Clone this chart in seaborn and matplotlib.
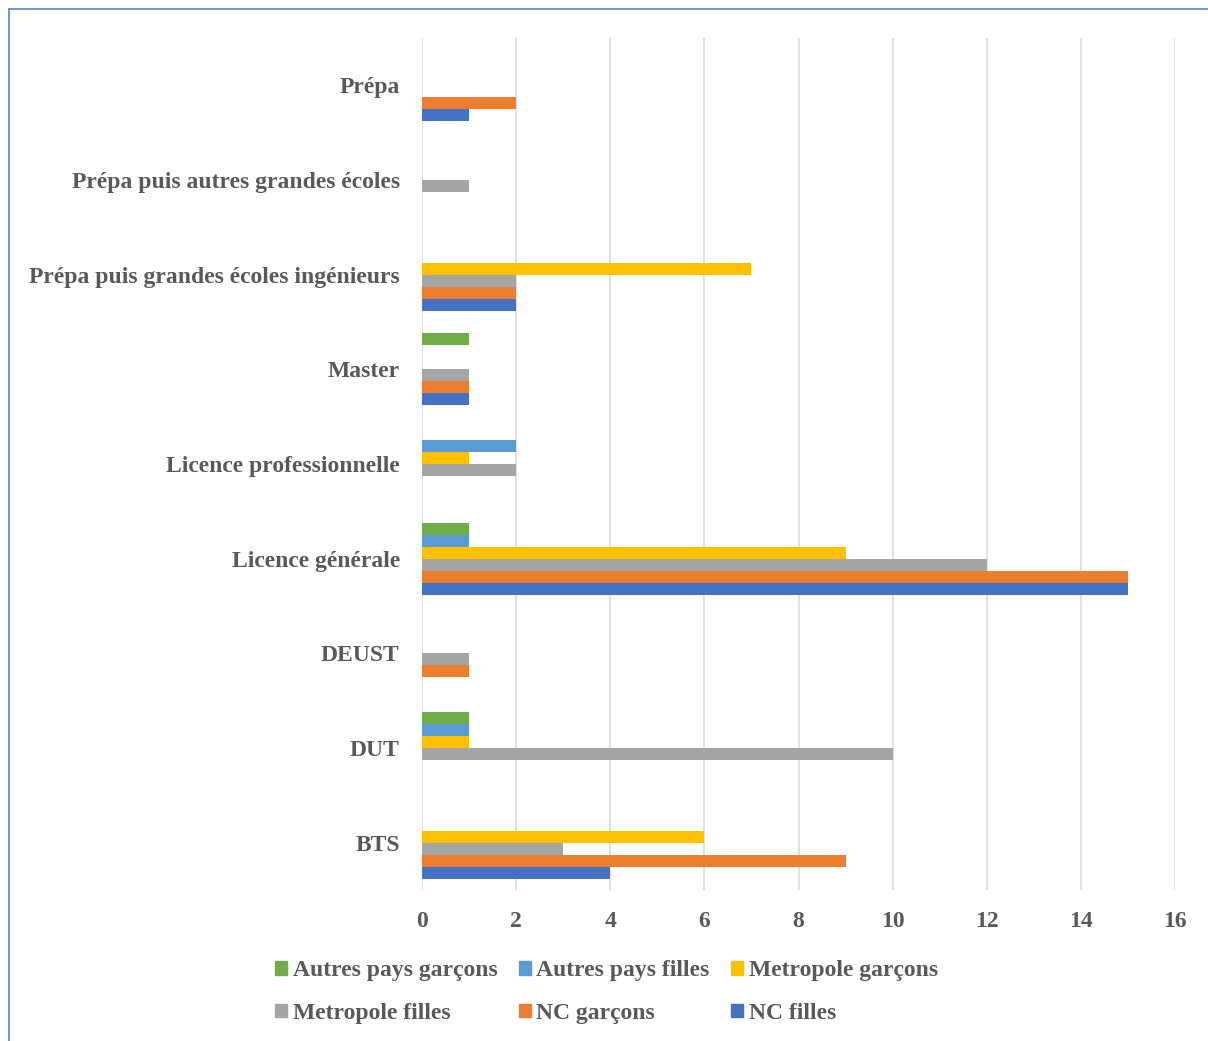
import matplotlib
matplotlib.use("Agg")
import matplotlib.pyplot as plt
from matplotlib.lines import Line2D
import seaborn as sns
import pandas as pd

categories = ["Prépa", "Prépa puis autres grandes écoles",
              "Prépa puis grandes écoles ingénieurs", "Master",
              "Licence professionnelle", "Licence générale", "DEUST", "DUT", "BTS"]

series = ["Autres pays garçons", "Autres pays filles", "Metropole garçons",
          "Metropole filles", "NC garçons", "NC filles"]

autres_pays_garcons = [0, 0, 0, 1, 0, 1, 0, 1, 0]
autres_pays_filles = [0, 0, 0, 0, 2, 1, 0, 1, 0]
metropole_garcons = [0, 0, 7, 0, 1, 9, 0, 1, 6]
metropole_filles = [0, 1, 2, 1, 2, 12, 1, 10, 3]
nc_garcons = [2, 0, 2, 1, 0, 15, 1, 0, 9]
nc_filles = [1, 0, 2, 1, 0, 15, 0, 0, 4]

colors = ["#70AD47", "#5B9BD5", "#FFC000", "#A5A5A5", "#ED7D31", "#4472C4"]

values = [autres_pays_garcons, autres_pays_filles, metropole_garcons,
          metropole_filles, nc_garcons, nc_filles]
rows = []
for s, vals in zip(series, values):
    for c, v in zip(categories, vals):
        rows.append({"cat": c, "serie": s, "val": v})
df = pd.DataFrame(rows)

sns.set_theme(style="white")
plt.rcParams["font.family"] = ["Liberation Serif", "DejaVu Serif"]
txt = "#595959"
fs = 17

fig = plt.figure(figsize=(12.08, 10.41), dpi=100)
ax = fig.add_axes([422 / 1208, 1 - 890 / 1041, (1175 - 422) / 1208, (890 - 38) / 1041])

sns.barplot(data=df, y="cat", x="val", hue="serie", order=categories,
            hue_order=series, palette=colors, saturation=1, orient="h",
            width=0.76, linewidth=0, ax=ax, legend=False)

ax.set_xlim(0, 16)
ax.set_xticks(range(0, 17, 2))
ax.set_ylim(len(categories) - 0.5, -0.5)
ax.grid(axis="x", color="#D9D9D9", linewidth=1.1)
ax.grid(axis="y", visible=False)
ax.set_axisbelow(True)
for sp in ax.spines.values():
    sp.set_visible(False)
ax.set_xlabel("")
ax.set_ylabel("")
ax.tick_params(axis="x", length=0, pad=15, labelsize=fs, labelcolor=txt)
ax.tick_params(axis="y", length=0, pad=16, labelsize=fs, labelcolor=txt)
for lab in ax.get_xticklabels() + ax.get_yticklabels():
    lab.set_fontweight("bold")

handles = {s: plt.Rectangle((0, 0), 1, 1, color=c) for s, c in zip(series, colors)}
order = ["Autres pays garçons", "Metropole filles", "Autres pays filles",
         "NC garçons", "Metropole garçons", "NC filles"]
leg = fig.legend([handles[s] for s in order], order, loc="center",
                 bbox_to_anchor=(0.502, 0.047), ncol=3, frameon=False,
                 prop={"size": fs, "weight": "bold"}, handlelength=0.5,
                 handleheight=0.5, handletextpad=0.25, columnspacing=0.9,
                 labelspacing=0.9)
for t in leg.get_texts():
    t.set_color(txt)

fig.add_artist(Line2D([8.5 / 1208, 1], [1 - 8.5 / 1041, 1 - 8.5 / 1041],
                      color="#5B8FD0", linewidth=1.3, transform=fig.transFigure))
fig.add_artist(Line2D([8.5 / 1208, 8.5 / 1208], [0, 1 - 8.5 / 1041],
                      color="#5B8FD0", linewidth=1.3, transform=fig.transFigure))

fig.savefig("out.png", dpi=100)
